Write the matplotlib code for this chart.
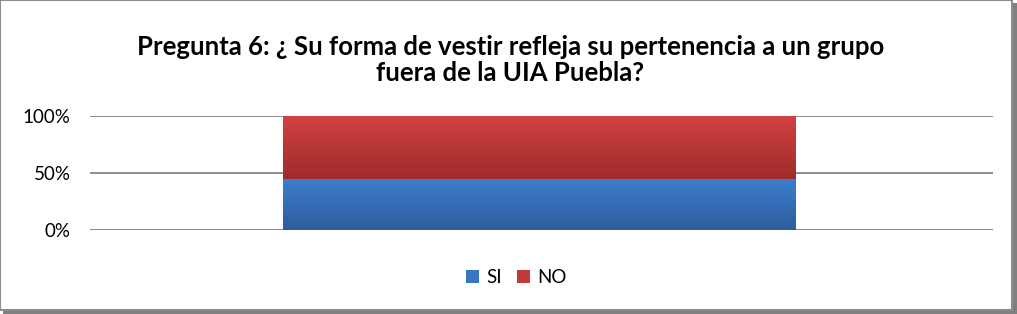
import numpy as np
import matplotlib.pyplot as plt
from matplotlib.colors import LinearSegmentedColormap
from matplotlib.patches import Rectangle

categories = [""]
si_values = [45]
no_values = [55]
series_names = ["SI", "NO"]
title = "Pregunta 6: ¿ Su forma de vestir refleja su pertenencia a un grupo\nfuera de la UIA Puebla?"

plt.rcParams['font.family'] = ['Lato', 'DejaVu Sans']

fig = plt.figure(figsize=(10.17, 3.14), dpi=100)
ax = fig.add_axes([0.0885, 0.268, 0.888, 0.363])

x = np.arange(len(categories))
width = 0.567
bars_si = ax.bar(x - 0.003, si_values, width, color="#3A75C4", label=series_names[0])
bars_no = ax.bar(x - 0.003, no_values, width, bottom=si_values, color="#C43A3A", label=series_names[1])


def shade(bars, top, bottom):
    cmap = LinearSegmentedColormap.from_list("g", [bottom, top])
    grad = np.linspace(0, 1, 256).reshape(-1, 1)
    for b in bars:
        x0, y0 = b.get_x(), b.get_y()
        im = ax.imshow(grad, cmap=cmap, origin="lower", aspect="auto",
                       extent=(x0, x0 + b.get_width(), y0, y0 + b.get_height()),
                       zorder=3)
        im.set_clip_path(b)


shade(bars_si, "#3D7ECF", "#2D5D9C")
shade(bars_no, "#D24242", "#9E2B2B")

ax.set_xlim(-0.5, 0.5)
ax.set_ylim(0, 100)
ax.set_yticks([0, 50, 100])
ax.set_yticklabels(["0%", "50%", "100%"], fontsize=13.5)
ax.set_xticks([])
ax.yaxis.grid(True, color="#868686", linewidth=1.3)
ax.set_axisbelow(True)
ax.tick_params(axis="y", length=0, pad=14)
for s in ax.spines.values():
    s.set_visible(False)
ax.axhline(0, color="#868686", linewidth=1.3, zorder=1)

fig.text(0.502, 0.81, title, ha="center", va="center", fontsize=18.5,
         fontweight="bold", linespacing=1.1)

ax.legend(loc="upper center", bbox_to_anchor=(0.472, -0.195), ncol=2,
          frameon=False, fontsize=13.5, handlelength=0.7, handleheight=0.7,
          handletextpad=0.4, columnspacing=0.8)

# outer frame with shadow
fig.patches.append(Rectangle((0.003, 0.0), 0.997, 0.99, transform=fig.transFigure,
                             facecolor="#808080", edgecolor="none", zorder=-2))
fig.patches.append(Rectangle((0.0, 0.012), 0.995, 0.988, transform=fig.transFigure,
                             facecolor="white", edgecolor="#8C8C8C", linewidth=1.5,
                             zorder=-1))

fig.savefig("out.png", dpi=100)
